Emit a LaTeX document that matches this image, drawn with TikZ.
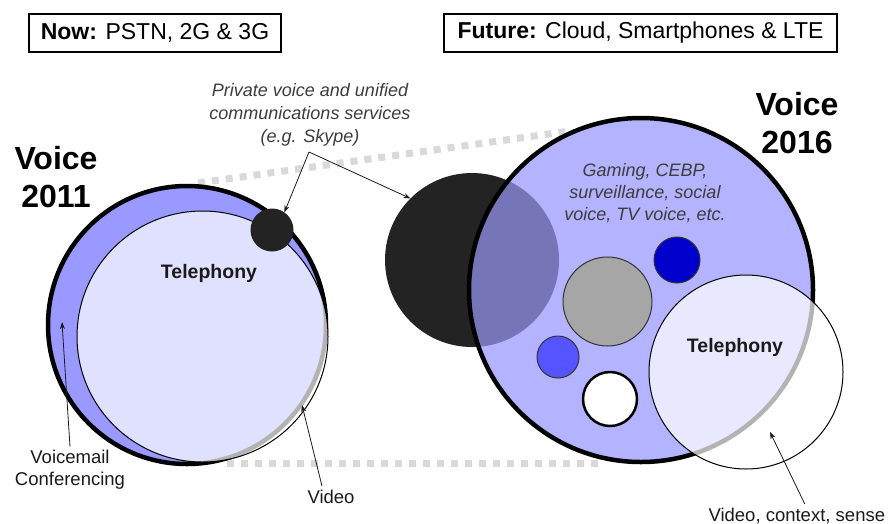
\documentclass[tikz,border=0pt]{standalone}
\usepackage{fontspec}
\setmainfont{Liberation Sans}
\usetikzlibrary{arrows.meta}
\definecolor{vblue}{HTML}{9999FF}
\definecolor{vlight}{HTML}{B3B3FF}
\definecolor{vover}{HTML}{7575B8}
\definecolor{vdark}{HTML}{232323}
\definecolor{vdeep}{HTML}{0000CC}
\definecolor{vmid}{HTML}{5555FF}
\definecolor{vgray}{HTML}{A6A6A6}
\definecolor{vdash}{HTML}{D9D9D9}
\definecolor{vtext}{HTML}{1A1A1A}
\tikzset{
  disc/.style={circle, inner sep=0pt, outer sep=0pt},
  overlay disc/.style={disc, fill=white, fill opacity=0.7, draw=black, line width=1pt},
  arr/.style={-{Stealth[length=7pt,width=5pt]}, line width=0.8pt, draw=vtext},
  guide/.style={draw=vdash, line width=7pt, dash pattern=on 7pt off 7pt},
  hdr/.style={draw, line width=1.2pt, inner sep=0pt, minimum height=38pt, font=\fontsize{23}{27}\selectfont},
  big/.style={font=\fontsize{32}{38}\selectfont\bfseries, align=center, text=black},
  lab/.style={font=\fontsize{18.5}{21.5}\selectfont, align=center, text=vtext},
  ital/.style={font=\fontsize{18}{23.3}\selectfont\itshape, align=center, text=vtext!85},
  tel/.style={font=\fontsize{19.5}{23}\selectfont\bfseries, text=vtext},
}
\begin{document}
\begin{tikzpicture}[x=1pt,y=-1pt]
\useasboundingbox (0,0) rectangle (893,523);
% guide lines (behind)
\coordinate (gt1) at (198,183);
\coordinate (gt2) at (570,131);
\coordinate (gb1) at (227,463);
\coordinate (gb2) at (604,463);
\draw[guide] (gt1) -- (gt2);
\draw[guide] (gb1) -- (gb2);

% header boxes
\node[hdr, minimum width=252pt] (now) at (155,33) {\textbf{Now:} PSTN, 2G \& 3G};
\node[hdr, minimum width=393pt] (fut) at (640.5,33) {\textbf{Future:} Cloud, Smartphones \& LTE};

% Voice 2011
\node[disc, minimum size=278pt, fill=vblue, draw=black, line width=4.5pt] (old) at (187,325) {};
\node[overlay disc, minimum size=251pt] (oldtel) at (202.5,336.5) {};
\node[disc, minimum size=43pt, fill=vdark] (skl) at (272,230) {};

% Voice 2016
\node[disc, minimum size=174pt, fill=vdark] (cloud) at (472,260) {};
\node[disc, minimum size=344pt, fill=vlight] (new) at (641,290) {};
\begin{scope}
  \clip (cloud.center) circle[radius=87];
  \fill[vover] (new.center) circle[radius=172];
\end{scope}
\draw[line width=4.5pt] (new.center) circle[radius=172];
\node[disc, minimum size=89pt, fill=vgray, draw=black!80, line width=1pt] (gry) at (607.5,301.5) {};
\node[disc, minimum size=46pt, fill=vdeep, draw=black!80, line width=1pt] (dpb) at (677,260) {};
\node[disc, minimum size=42pt, fill=vmid, draw=black!80, line width=1pt] (mdb) at (558,357) {};
\node[disc, minimum size=54pt, fill=white, draw=black, line width=2.5pt] (wht) at (610,399) {};
\node[overlay disc, minimum size=194pt] (newtel) at (746,372) {};

% labels
\node[big] (v11) at (56,177) {Voice\\2011};
\node[big] (v16) at (797,123.5) {Voice\\2016};
\node[ital] (priv) at (310,115) {Private voice and unified\\communications services\\(e.g. Skype)};
\coordinate (apex) at (309,152);
\node[ital, font=\fontsize{18}{22}\selectfont\itshape] (game) at (645,193.5) {Gaming, CEBP,\\surveillance, social\\voice, TV voice, etc.};
\node[tel] (telL) at (209,273) {Telephony};
\node[tel] (telR) at (735,347) {Telephony};
\node[lab] (vm) at (70,469.5) {Voicemail\\Conferencing};
\node[lab] (vid) at (331,496.5) {Video};
\node[lab, anchor=base west] (vcs) at (705,521) {Video, context, sense};

% arrows
\coordinate (vmtip) at (62,322);
\coordinate (vidtip) at (302,405);
\coordinate (vcstip) at (770,432);
\draw[arr] (apex) -- (skl.55);
\draw[arr] (apex) -- (cloud.135);
\draw[arr] (vm.north) -- (vmtip);
\draw[arr] ([xshift=-9pt]vid.north) -- (vidtip);
\draw[arr] ([xshift=8pt]vcs.north) -- (vcstip);
\end{tikzpicture}
\end{document}
